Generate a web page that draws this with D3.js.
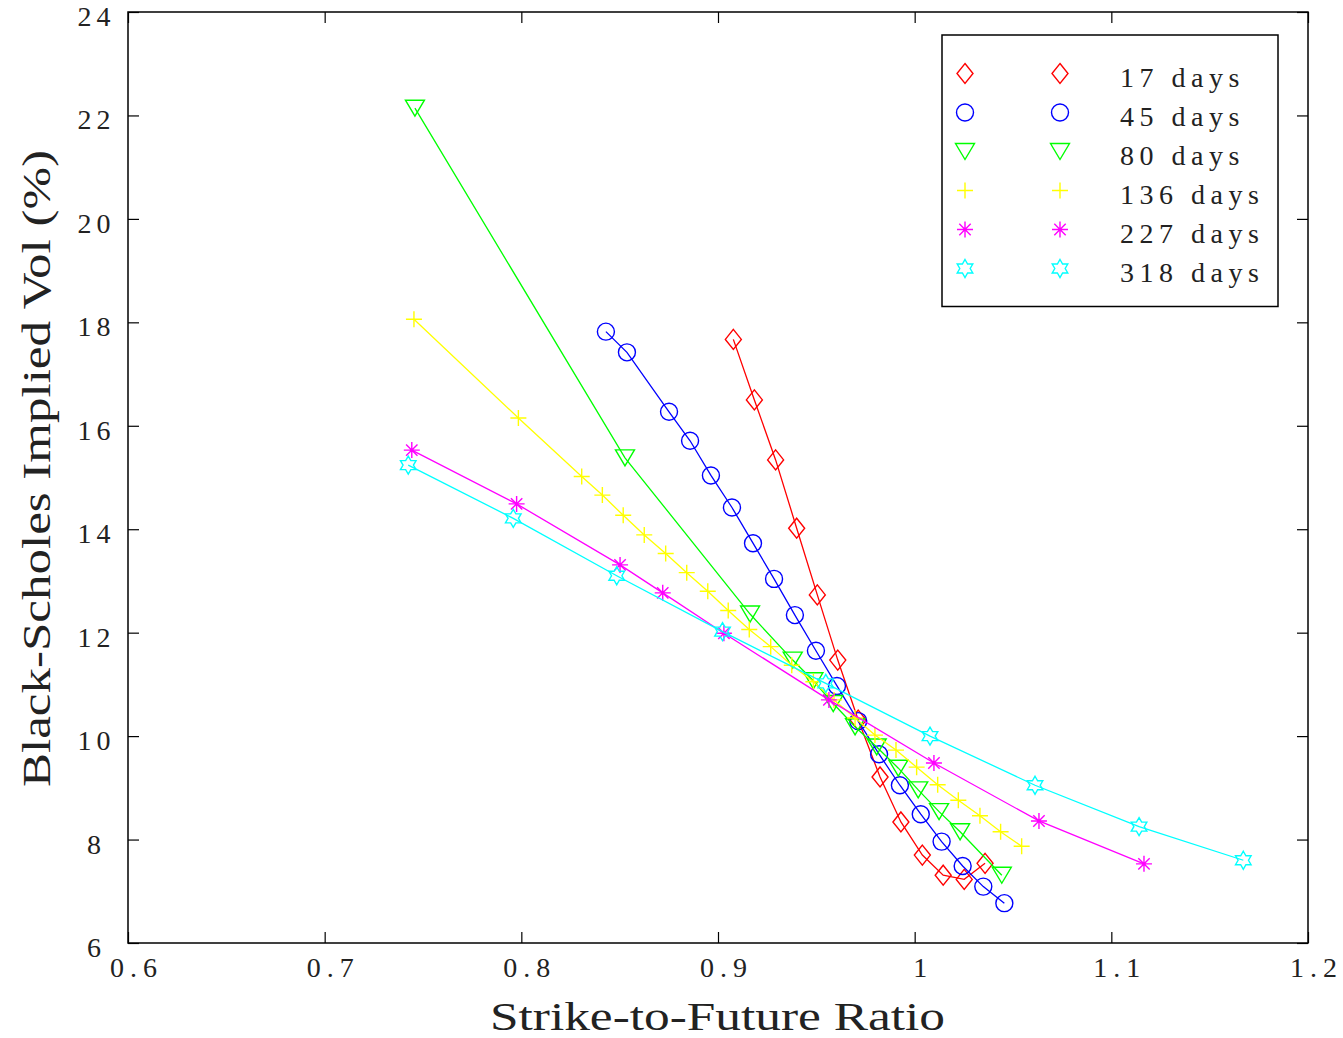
<!DOCTYPE html>
<html>
<head>
<meta charset="utf-8">
<script src="https://cdn.jsdelivr.net/npm/d3@7"></script>
<style>
  body { margin: 0; background: #fff; }
  text { font-family: "Liberation Serif", "DejaVu Serif", serif; fill: #222; }
</style>
</head>
<body>
<svg id="chart" width="1343" height="1038"></svg>
<script>
// strike / future ratios and implied vols
var k17  = [0.9078,0.9185,0.9293,0.9400,0.9505,0.9609,0.9713,0.9824,0.9930,1.0039,1.0145,1.0252,1.0358];
var v17  = [17.67,16.50,15.34,14.02,12.73,11.47,10.31,9.21,8.34,7.70,7.31,7.23,7.54];
var k45  = [0.8430,0.8537,0.8751,0.8858,0.8964,0.9071,0.9178,0.9285,0.9391,0.9498,0.9605,0.9713,0.9819,0.9925,1.0031,1.0137,1.0244,1.0349,1.0456];
var v45  = [17.82,17.42,16.27,15.71,15.04,14.42,13.73,13.04,12.34,11.65,10.97,10.29,9.65,9.05,8.49,7.96,7.49,7.09,6.77];
var k80  = [0.7459,0.8527,0.9163,0.9380,0.9485,0.9586,0.9697,0.9807,0.9917,1.0018,1.0124,1.0231,1.0443];
var v80  = [22.14,15.38,12.36,11.47,11.07,10.63,10.18,9.79,9.38,8.96,8.54,8.15,7.31];
var k136 = [0.7454,0.7985,0.8307,0.8412,0.8518,0.8625,0.8734,0.8841,0.8948,0.9052,0.9159,0.9268,0.9375,0.9485,0.9590,0.9697,0.9798,0.9905,1.0010,1.0117,1.0222,1.0332,1.0437,1.0544];
var v136 = [18.06,16.15,15.02,14.66,14.27,13.89,13.53,13.16,12.80,12.43,12.06,11.73,11.37,11.05,10.70,10.35,10.02,9.73,9.40,9.06,8.76,8.46,8.15,7.87];
var k227 = [0.7443,0.7976,0.8502,0.8719,0.9030,0.9564,1.0098,1.0632,1.1166];
var v227 = [15.53,14.49,13.31,12.77,11.99,10.70,9.48,8.36,7.53];
var k318 = [0.7425,0.7959,0.8485,0.9023,0.9548,1.0078,1.0612,1.1141,1.1671];
var v318 = [15.24,14.21,13.10,12.02,11.02,10.00,9.05,8.25,7.60];

var seriesNames = ["17 days","45 days","80 days","136 days","227 days","318 days"];
var seriesColors = ["#ff0000","#0000ff","#00ff00","#ffff00","#ff00ff","#00ffff"];
var seriesMarkers = ["diamond","circle","triangle","plus","asterisk","hexagram"];
var xTicks = [0.6,0.7,0.8,0.9,1,1.1,1.2];
var yTicks = [6,8,10,12,14,16,18,20,22,24];

var strikes = [k17,k45,k80,k136,k227,k318];
var vols = [v17,v45,v80,v136,v227,v318];

var L = 128, R = 1308, T = 12, B = 943;
var svg = d3.select("#chart");
var x = d3.scaleLinear().domain([0.6,1.2]).range([L,R]);
var y = d3.scaleLinear().domain([6,24]).range([B,T]);

// marker shapes, drawn round (0,0)
function markerPath(type){
	var p = d3.path();
	if(type=="diamond"){
		p.moveTo(0,-10);p.lineTo(8,0);p.lineTo(0,10);p.lineTo(-8,0);p.closePath();
	}else if(type=="circle"){
		p.moveTo(8.5,0);p.arc(0,0,8.5,0,2*Math.PI);
	}else if(type=="triangle"){
		p.moveTo(-9.5,-8);p.lineTo(9.5,-8);p.lineTo(0,8);p.closePath();
	}else if(type=="plus"){
		p.moveTo(-8,0);p.lineTo(8,0);p.moveTo(0,-8);p.lineTo(0,8);
	}else if(type=="asterisk"){
		p.moveTo(-8,0);p.lineTo(8,0);p.moveTo(0,-8);p.lineTo(0,8);
		p.moveTo(-5.7,-5.7);p.lineTo(5.7,5.7);p.moveTo(-5.7,5.7);p.lineTo(5.7,-5.7);
	}else if(type=="hexagram"){
		var ro = 9, ri = 9/Math.sqrt(3);
		for(var i=0;i<12;i++){
			var a = -Math.PI/2 + i*Math.PI/6, r = i%2==0 ? ro : ri;
			if(i==0) p.moveTo(r*Math.cos(a),r*Math.sin(a)); else p.lineTo(r*Math.cos(a),r*Math.sin(a));
		}
		p.closePath();
	}
	return p.toString();
}

// axes box and ticks (inward, on all four sides)
var axes = svg.append("g").attr("class","axes");
axes.append("g").attr("transform","translate(0,"+B+")")
	.call(d3.axisBottom(x).tickValues(xTicks).tickSize(-11).tickFormat(""));
axes.append("g").attr("transform","translate(0,"+T+")")
	.call(d3.axisTop(x).tickValues(xTicks).tickSize(-11).tickFormat(""));
axes.append("g").attr("transform","translate("+L+",0)")
	.call(d3.axisLeft(y).tickValues(yTicks).tickSize(-11).tickFormat(""));
axes.append("g").attr("transform","translate("+R+",0)")
	.call(d3.axisRight(y).tickValues(yTicks).tickSize(-11).tickFormat(""));
axes.selectAll(".domain").remove();
axes.selectAll(".tick line").attr("stroke","#000").attr("stroke-width",1.2);
axes.append("rect").attr("x",L).attr("y",T).attr("width",R-L).attr("height",B-T)
	.attr("fill","none").attr("stroke","#000").attr("stroke-width",1.5);

// tick labels
svg.append("g").selectAll("text").data(xTicks).enter().append("text")
	.attr("x",function(d){return x(d)+5.5+3})
	.attr("y",B+34)
	.attr("text-anchor","middle")
	.style("font-size","28px").style("letter-spacing","6px")
	.text(function(d){return d});
svg.append("g").selectAll("text").data(yTicks).enter().append("text")
	.attr("x",94+2.5)
	.attr("y",function(d){return y(d)+14})
	.attr("text-anchor","middle")
	.style("font-size","28px").style("letter-spacing","5px")
	.text(function(d){return d});

// axis titles
svg.append("text").attr("x",490).attr("y",1030)
	.attr("textLength",455).attr("lengthAdjust","spacingAndGlyphs")
	.style("font-size","40px").text("Strike-to-Future Ratio");
svg.append("text").attr("transform","translate(50,787) rotate(-90)")
	.attr("textLength",637).attr("lengthAdjust","spacingAndGlyphs")
	.style("font-size","40px").text("Black-Scholes Implied Vol (%)");

// series lines and markers
var line = d3.line().x(function(d){return x(d[0])}).y(function(d){return y(d[1])});
var plot = svg.append("g").attr("class","series");
strikes.forEach(function(ks,s){
	var pts = ks.map(function(k,i){return [k,vols[s][i]]});
	var g = plot.append("g");
	g.append("path").attr("d",line(pts)).attr("fill","none")
		.attr("stroke",seriesColors[s]).attr("stroke-width",1.3);
	g.selectAll(".mk").data(pts).enter().append("path")
		.attr("class","mk")
		.attr("transform",function(d){return "translate("+x(d[0])+","+y(d[1])+")"})
		.attr("d",markerPath(seriesMarkers[s]))
		.attr("fill","none").attr("stroke",seriesColors[s]).attr("stroke-width",1.4);
});

// legend
var leg = svg.append("g").attr("class","legend");
leg.append("rect").attr("x",942).attr("y",35).attr("width",336).attr("height",271.5)
	.attr("fill","#fff").attr("stroke","#000").attr("stroke-width",1.5);
seriesNames.forEach(function(name,i){
	var ry = 73.5 + i*39;
	[965,1060].forEach(function(mx){
		leg.append("path").attr("transform","translate("+mx+","+ry+")")
			.attr("d",markerPath(seriesMarkers[i]))
			.attr("fill","none").attr("stroke",seriesColors[i]).attr("stroke-width",1.4);
	});
	leg.append("text").attr("x",1120).attr("y",ry+13)
		.style("font-size","28px").style("letter-spacing","5.5px")
		.text(name);
});
</script>
</body>
</html>
